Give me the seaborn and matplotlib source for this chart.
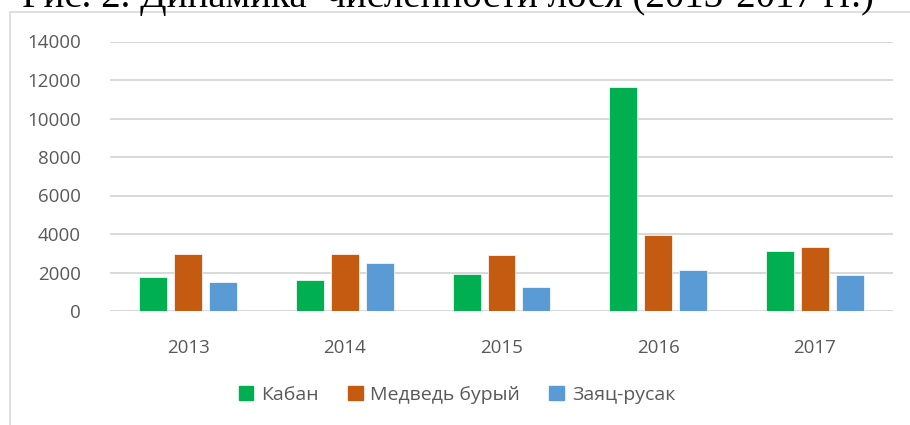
import seaborn as sns
import matplotlib.pyplot as plt
import matplotlib.patches as mpatches
import pandas as pd

years = ['2013', '2014', '2015', '2016', '2017']
species = ['Кабан', 'Медведь бурый', 'Заяц-русак']
kaban = [1780, 1610, 1900, 11650, 3100]
medved = [2940, 2940, 2890, 3940, 3340]
zayats = [1490, 2470, 1240, 2120, 1850]
yticks = [0, 2000, 4000, 6000, 8000, 10000, 12000, 14000]
title = 'Рис. 2. Динамика  численности лося (2013-2017 гг.)'

df = pd.DataFrame({
    'year': years * 3,
    'species': [species[0]] * 5 + [species[1]] * 5 + [species[2]] * 5,
    'value': kaban + medved + zayats,
})

sns.set_style('white')
plt.rcParams['font.family'] = ['Open Sans', 'DejaVu Sans']
txt = '#595959'

fig = plt.figure(figsize=(9.1, 4.25), dpi=100)
ax = fig.add_axes([110 / 910, 1 - 311 / 425, 783 / 910, (311 - 41.5) / 425])

palette = {'Кабан': '#00B050', 'Медведь бурый': '#C55A11', 'Заяц-русак': '#5B9BD5'}
sns.barplot(data=df, x='year', y='value', hue='species', palette=palette,
            width=0.67, gap=0.2, edgecolor='white', linewidth=0.5,
            saturation=1, ax=ax, legend=False, zorder=3)

ax.set_ylim(0, 14000)
ax.set_yticks(yticks)
ax.set_yticklabels([str(v) for v in yticks])
ax.set_xlim(-0.5, 4.5)
ax.grid(axis='y', color='#D9D9D9', linewidth=1.4, zorder=0)
ax.set_axisbelow(True)
for s in ax.spines.values():
    s.set_visible(False)
ax.tick_params(axis='both', length=0, labelsize=13.5, labelcolor=txt)
ax.tick_params(axis='y', pad=21)
ax.tick_params(axis='x', pad=20)
ax.set_xlabel('')
ax.set_ylabel('')

handles = [mpatches.Patch(color=palette[s], label=s) for s in species]
ax.legend(handles=handles, loc='center', bbox_to_anchor=(457 / 910, 1 - 395 / 425),
          bbox_transform=fig.transFigure, ncol=3, frameon=False,
          handlelength=0.75, handleheight=0.75, handletextpad=0.4,
          columnspacing=1.5, prop={'size': 14}, labelcolor=txt)

# chart frame
fig.add_artist(mpatches.Rectangle((10 / 910, -0.05), 1.1, 1 - 12 / 425 + 0.05,
                                  transform=fig.transFigure, fill=False,
                                  edgecolor='#D9D9D9', linewidth=1.2))

# title, cut off at top as in the source
fig.text(22 / 910, 1 - 7 / 425, title, fontsize=28, family='Liberation Serif',
         color='black', va='baseline', ha='left')

fig.savefig('out.png', dpi=100)
